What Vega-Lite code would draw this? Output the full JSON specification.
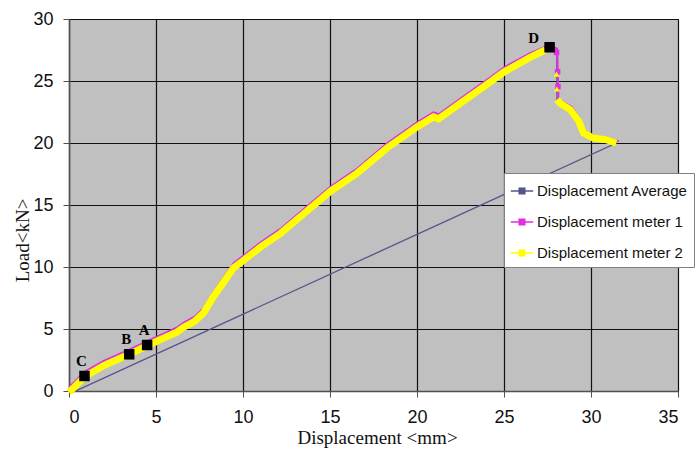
{
  "$schema": "https://vega.github.io/schema/vega-lite/v6.json",
  "width": 609,
  "height": 372,
  "autosize": {"type": "none"},
  "padding": {"left": 69, "top": 19, "right": 21, "bottom": 64},
  "background": "white",
  "config": {
    "view": {"fill": "#c0c0c0", "stroke": "#404040", "strokeWidth": 1},
    "axis": {
      "grid": true,
      "gridColor": "#111111",
      "gridWidth": 1.2,
      "gridOpacity": 1,
      "domainColor": "#505050",
      "domainWidth": 1.5,
      "tickColor": "#505050",
      "tickSize": 6,
      "labelFont": "Liberation Sans, Arial, sans-serif",
      "labelFontSize": 18,
      "labelColor": "#111111",
      "titleFont": "Liberation Serif, Times New Roman, serif",
      "titleFontSize": 19,
      "titleFontWeight": "normal",
      "titleColor": "#111111"
    }
  },
  "datasets": {
    "curves": [
      {"s": "Displacement Average", "i": 1, "x": 0, "y": 0},
      {"s": "Displacement Average", "i": 2, "x": 0.3, "y": 0.3},
      {"s": "Displacement Average", "i": 3, "x": 0.89, "y": 1.15},
      {"s": "Displacement Average", "i": 4, "x": 2.0, "y": 2.05},
      {"s": "Displacement Average", "i": 5, "x": 3.46, "y": 2.96},
      {"s": "Displacement Average", "i": 6, "x": 4.49, "y": 3.65},
      {"s": "Displacement Average", "i": 7, "x": 5.5, "y": 4.3},
      {"s": "Displacement Average", "i": 8, "x": 6.2, "y": 4.75},
      {"s": "Displacement Average", "i": 9, "x": 6.6, "y": 5.15},
      {"s": "Displacement Average", "i": 10, "x": 7.2, "y": 5.6},
      {"s": "Displacement Average", "i": 11, "x": 7.74, "y": 6.3},
      {"s": "Displacement Average", "i": 12, "x": 8.3, "y": 7.6},
      {"s": "Displacement Average", "i": 13, "x": 8.9, "y": 8.8},
      {"s": "Displacement Average", "i": 14, "x": 9.47, "y": 9.95},
      {"s": "Displacement Average", "i": 15, "x": 10.04, "y": 10.55},
      {"s": "Displacement Average", "i": 16, "x": 11.0, "y": 11.6},
      {"s": "Displacement Average", "i": 17, "x": 12.15, "y": 12.7},
      {"s": "Displacement Average", "i": 18, "x": 13.5, "y": 14.3},
      {"s": "Displacement Average", "i": 19, "x": 15.02, "y": 16.1},
      {"s": "Displacement Average", "i": 20, "x": 16.5, "y": 17.5},
      {"s": "Displacement Average", "i": 21, "x": 18.28, "y": 19.6},
      {"s": "Displacement Average", "i": 22, "x": 20.0, "y": 21.3},
      {"s": "Displacement Average", "i": 23, "x": 20.95, "y": 22.1},
      {"s": "Displacement Average", "i": 24, "x": 21.24, "y": 21.95},
      {"s": "Displacement Average", "i": 25, "x": 22.68, "y": 23.4},
      {"s": "Displacement Average", "i": 26, "x": 24.0, "y": 24.7},
      {"s": "Displacement Average", "i": 27, "x": 24.97, "y": 25.7},
      {"s": "Displacement Average", "i": 28, "x": 26.5, "y": 26.9},
      {"s": "Displacement Average", "i": 29, "x": 27.37, "y": 27.5},
      {"s": "Displacement Average", "i": 30, "x": 27.9, "y": 27.6},
      {"s": "Displacement Average", "i": 31, "x": 28.04, "y": 27.2},
      {"s": "Displacement Average", "i": 32, "x": 28.04, "y": 25.6},
      {"s": "Displacement Average", "i": 33, "x": 28.04, "y": 24.4},
      {"s": "Displacement Average", "i": 34, "x": 28.05, "y": 23.4},
      {"s": "Displacement Average", "i": 35, "x": 28.23, "y": 23.2},
      {"s": "Displacement Average", "i": 36, "x": 28.8, "y": 22.7},
      {"s": "Displacement Average", "i": 37, "x": 29.28, "y": 21.8},
      {"s": "Displacement Average", "i": 38, "x": 29.57, "y": 20.8},
      {"s": "Displacement Average", "i": 39, "x": 30.14, "y": 20.4},
      {"s": "Displacement Average", "i": 40, "x": 30.91, "y": 20.25},
      {"s": "Displacement Average", "i": 41, "x": 31.45, "y": 20.0},
      {"s": "Displacement Average", "i": 42, "x": 0.3, "y": -0.05},

      {"s": "Displacement meter 1", "i": 1, "x": 0, "y": 0.3},
      {"s": "Displacement meter 1", "i": 2, "x": 0.3, "y": 0.7},
      {"s": "Displacement meter 1", "i": 3, "x": 0.89, "y": 1.55},
      {"s": "Displacement meter 1", "i": 4, "x": 2.0, "y": 2.43},
      {"s": "Displacement meter 1", "i": 5, "x": 3.46, "y": 3.33},
      {"s": "Displacement meter 1", "i": 6, "x": 4.49, "y": 4.02},
      {"s": "Displacement meter 1", "i": 7, "x": 5.5, "y": 4.67},
      {"s": "Displacement meter 1", "i": 8, "x": 6.2, "y": 5.12},
      {"s": "Displacement meter 1", "i": 9, "x": 6.6, "y": 5.52},
      {"s": "Displacement meter 1", "i": 10, "x": 7.2, "y": 5.97},
      {"s": "Displacement meter 1", "i": 11, "x": 7.74, "y": 6.67},
      {"s": "Displacement meter 1", "i": 12, "x": 8.3, "y": 7.97},
      {"s": "Displacement meter 1", "i": 13, "x": 8.9, "y": 9.17},
      {"s": "Displacement meter 1", "i": 14, "x": 9.47, "y": 10.32},
      {"s": "Displacement meter 1", "i": 15, "x": 10.04, "y": 10.92},
      {"s": "Displacement meter 1", "i": 16, "x": 11.0, "y": 11.97},
      {"s": "Displacement meter 1", "i": 17, "x": 12.15, "y": 13.07},
      {"s": "Displacement meter 1", "i": 18, "x": 13.5, "y": 14.67},
      {"s": "Displacement meter 1", "i": 19, "x": 15.02, "y": 16.47},
      {"s": "Displacement meter 1", "i": 20, "x": 16.5, "y": 17.87},
      {"s": "Displacement meter 1", "i": 21, "x": 18.28, "y": 19.97},
      {"s": "Displacement meter 1", "i": 22, "x": 20.0, "y": 21.67},
      {"s": "Displacement meter 1", "i": 23, "x": 20.95, "y": 22.47},
      {"s": "Displacement meter 1", "i": 24, "x": 21.24, "y": 22.32},
      {"s": "Displacement meter 1", "i": 25, "x": 22.68, "y": 23.77},
      {"s": "Displacement meter 1", "i": 26, "x": 24.0, "y": 25.07},
      {"s": "Displacement meter 1", "i": 27, "x": 24.97, "y": 26.07},
      {"s": "Displacement meter 1", "i": 28, "x": 26.5, "y": 27.25},
      {"s": "Displacement meter 1", "i": 29, "x": 27.6, "y": 27.9},
      {"s": "Displacement meter 1", "i": 30, "x": 28.05, "y": 27.6},
      {"s": "Displacement meter 1", "i": 31, "x": 28.1, "y": 25.6},
      {"s": "Displacement meter 1", "i": 32, "x": 28.12, "y": 24.4},
      {"s": "Displacement meter 1", "i": 33, "x": 28.12, "y": 23.5},
      {"s": "Displacement meter 1", "i": 34, "x": 28.35, "y": 23.35},
      {"s": "Displacement meter 1", "i": 35, "x": 28.9, "y": 22.9},
      {"s": "Displacement meter 1", "i": 36, "x": 29.35, "y": 22.0},
      {"s": "Displacement meter 1", "i": 37, "x": 29.6, "y": 21.0},
      {"s": "Displacement meter 1", "i": 38, "x": 30.2, "y": 20.55},
      {"s": "Displacement meter 1", "i": 39, "x": 31.0, "y": 20.4},
      {"s": "Displacement meter 1", "i": 40, "x": 31.6, "y": 20.15},

      {"s": "Displacement meter 2", "i": 1, "x": 0, "y": -0.1},
      {"s": "Displacement meter 2", "i": 2, "x": 0.3, "y": 0.3},
      {"s": "Displacement meter 2", "i": 3, "x": 0.89, "y": 1.15},
      {"s": "Displacement meter 2", "i": 4, "x": 2.0, "y": 2.05},
      {"s": "Displacement meter 2", "i": 5, "x": 3.46, "y": 2.96},
      {"s": "Displacement meter 2", "i": 6, "x": 4.49, "y": 3.65},
      {"s": "Displacement meter 2", "i": 7, "x": 5.5, "y": 4.3},
      {"s": "Displacement meter 2", "i": 8, "x": 6.2, "y": 4.75},
      {"s": "Displacement meter 2", "i": 9, "x": 6.6, "y": 5.15},
      {"s": "Displacement meter 2", "i": 10, "x": 7.2, "y": 5.6},
      {"s": "Displacement meter 2", "i": 11, "x": 7.74, "y": 6.3},
      {"s": "Displacement meter 2", "i": 12, "x": 8.3, "y": 7.6},
      {"s": "Displacement meter 2", "i": 13, "x": 8.9, "y": 8.8},
      {"s": "Displacement meter 2", "i": 14, "x": 9.47, "y": 9.95},
      {"s": "Displacement meter 2", "i": 15, "x": 10.04, "y": 10.55},
      {"s": "Displacement meter 2", "i": 16, "x": 11.0, "y": 11.6},
      {"s": "Displacement meter 2", "i": 17, "x": 12.15, "y": 12.7},
      {"s": "Displacement meter 2", "i": 18, "x": 13.5, "y": 14.3},
      {"s": "Displacement meter 2", "i": 19, "x": 15.02, "y": 16.1},
      {"s": "Displacement meter 2", "i": 20, "x": 16.5, "y": 17.5},
      {"s": "Displacement meter 2", "i": 21, "x": 18.28, "y": 19.6},
      {"s": "Displacement meter 2", "i": 22, "x": 20.0, "y": 21.3},
      {"s": "Displacement meter 2", "i": 23, "x": 20.95, "y": 22.1},
      {"s": "Displacement meter 2", "i": 24, "x": 21.24, "y": 21.95},
      {"s": "Displacement meter 2", "i": 25, "x": 22.68, "y": 23.4},
      {"s": "Displacement meter 2", "i": 26, "x": 24.0, "y": 24.7},
      {"s": "Displacement meter 2", "i": 27, "x": 24.97, "y": 25.7},
      {"s": "Displacement meter 2", "i": 28, "x": 26.5, "y": 26.9},
      {"s": "Displacement meter 2", "i": 29, "x": 27.37, "y": 27.5}
    ],
    "drop2": [
      {"s": "Displacement meter 2", "i": 1, "x": 28.05, "y": 23.5},
      {"s": "Displacement meter 2", "i": 2, "x": 28.23, "y": 23.2},
      {"s": "Displacement meter 2", "i": 3, "x": 28.8, "y": 22.7},
      {"s": "Displacement meter 2", "i": 4, "x": 29.28, "y": 21.8},
      {"s": "Displacement meter 2", "i": 5, "x": 29.57, "y": 20.8},
      {"s": "Displacement meter 2", "i": 6, "x": 30.14, "y": 20.4},
      {"s": "Displacement meter 2", "i": 7, "x": 30.91, "y": 20.25},
      {"s": "Displacement meter 2", "i": 8, "x": 31.45, "y": 20.0}
    ],
    "dropmarks": [
      {"s": "Displacement meter 1", "x": 28.08, "y": 25.75},
      {"s": "Displacement meter 1", "x": 28.1, "y": 24.55},
      {"s": "Displacement meter 1", "x": 28.02, "y": 27.3},
      {"s": "Displacement meter 2", "x": 28.02, "y": 25.55},
      {"s": "Displacement meter 2", "x": 28.04, "y": 24.35}
    ],
    "marks": [
      {"label": "C", "x": 0.89, "y": 1.21},
      {"label": "B", "x": 3.46, "y": 2.96},
      {"label": "A", "x": 4.49, "y": 3.71},
      {"label": "D", "x": 27.62, "y": 27.72}
    ]
  },
  "layer": [
    {
      "data": {"name": "curves"},
      "transform": [{"filter": "datum.s === 'Displacement Average'"}],
      "mark": {"type": "line", "strokeWidth": 1.3},
      "encoding": {
        "x": {"field": "x", "type": "quantitative", "scale": {"domain": [0, 35], "nice": false},
              "axis": {"values": [0, 5, 10, 15, 20, 25, 30, 35], "title": "Displacement <mm>", "titleX": 308, "titleY": 46, "titleBaseline": "middle", "labelPadding": 11}},
        "y": {"field": "y", "type": "quantitative", "scale": {"domain": [0, 30], "nice": false},
              "axis": {"values": [0, 5, 10, 15, 20, 25, 30], "title": "Load<kN>", "titleX": -47, "titleY": 221, "titleAngle": -90, "titleBaseline": "middle", "titleAlign": "center", "labelPadding": 10}},
        "order": {"field": "i", "type": "quantitative"},
        "color": {"field": "s", "type": "nominal",
          "scale": {"domain": ["Displacement Average", "Displacement meter 1", "Displacement meter 2"], "range": ["#55558a", "#e030e0", "#ffff00"]},
          "legend": {"title": null, "orient": "none", "legendX": 435, "legendY": 154,
            "fillColor": "white", "strokeColor": "#808080", "padding": 6,
            "symbolType": "M-1,0H1M-0.25,-0.25H0.25V0.25H-0.25Z", "symbolSize": 500, "symbolStrokeWidth": 1.5,
            "labelFont": "Liberation Sans, Arial, sans-serif", "labelFontSize": 15, "labelColor": "#111111", "labelLimit": 0,
            "rowPadding": 11, "labelOffset": 3,
            "encode": {"symbols": {"update": {"fill": {"scale": "color", "field": "value"}}}}}}
      }
    },
    {
      "data": {"name": "curves"},
      "transform": [{"filter": "datum.s === 'Displacement meter 1'"}],
      "mark": {"type": "line", "strokeWidth": 2},
      "encoding": {
        "x": {"field": "x", "type": "quantitative"},
        "y": {"field": "y", "type": "quantitative"},
        "order": {"field": "i", "type": "quantitative"},
        "color": {"field": "s", "type": "nominal"}
      }
    },
    {
      "data": {"name": "curves"},
      "transform": [{"filter": "datum.s === 'Displacement meter 2'"}],
      "mark": {"type": "line", "strokeWidth": 7},
      "encoding": {
        "x": {"field": "x", "type": "quantitative"},
        "y": {"field": "y", "type": "quantitative"},
        "order": {"field": "i", "type": "quantitative"},
        "color": {"field": "s", "type": "nominal"}
      }
    },
    {
      "data": {"name": "drop2"},
      "mark": {"type": "line", "strokeWidth": 7},
      "encoding": {
        "x": {"field": "x", "type": "quantitative"},
        "y": {"field": "y", "type": "quantitative"},
        "order": {"field": "i", "type": "quantitative"},
        "color": {"field": "s", "type": "nominal"}
      }
    },
    {
      "data": {"name": "dropmarks"},
      "transform": [{"filter": "datum.s === 'Displacement meter 1'"}],
      "mark": {"type": "point", "shape": "square", "filled": true, "size": 30, "opacity": 1},
      "encoding": {
        "x": {"field": "x", "type": "quantitative"},
        "y": {"field": "y", "type": "quantitative"},
        "color": {"field": "s", "type": "nominal"}
      }
    },
    {
      "data": {"name": "dropmarks"},
      "transform": [{"filter": "datum.s === 'Displacement meter 2'"}],
      "mark": {"type": "point", "shape": "triangle-up", "filled": true, "size": 35, "opacity": 1},
      "encoding": {
        "x": {"field": "x", "type": "quantitative"},
        "y": {"field": "y", "type": "quantitative"},
        "color": {"field": "s", "type": "nominal"}
      }
    },
    {
      "data": {"name": "marks"},
      "mark": {"type": "point", "shape": "square", "filled": true, "size": 110, "color": "black", "opacity": 1},
      "encoding": {
        "x": {"field": "x", "type": "quantitative"},
        "y": {"field": "y", "type": "quantitative"}
      }
    },
    {
      "data": {"name": "marks"},
      "transform": [{"filter": "datum.label !== 'D'"}],
      "mark": {"type": "text", "font": "Liberation Serif, serif", "fontWeight": "bold", "fontSize": 15, "dx": -3, "dy": -15, "color": "black"},
      "encoding": {
        "x": {"field": "x", "type": "quantitative"},
        "y": {"field": "y", "type": "quantitative"},
        "text": {"field": "label"}
      }
    },
    {
      "data": {"name": "marks"},
      "transform": [{"filter": "datum.label === 'D'"}],
      "mark": {"type": "text", "font": "Liberation Serif, serif", "fontWeight": "bold", "fontSize": 15, "dx": -16, "dy": -9, "color": "black"},
      "encoding": {
        "x": {"field": "x", "type": "quantitative"},
        "y": {"field": "y", "type": "quantitative"},
        "text": {"field": "label"}
      }
    }
  ]
}
